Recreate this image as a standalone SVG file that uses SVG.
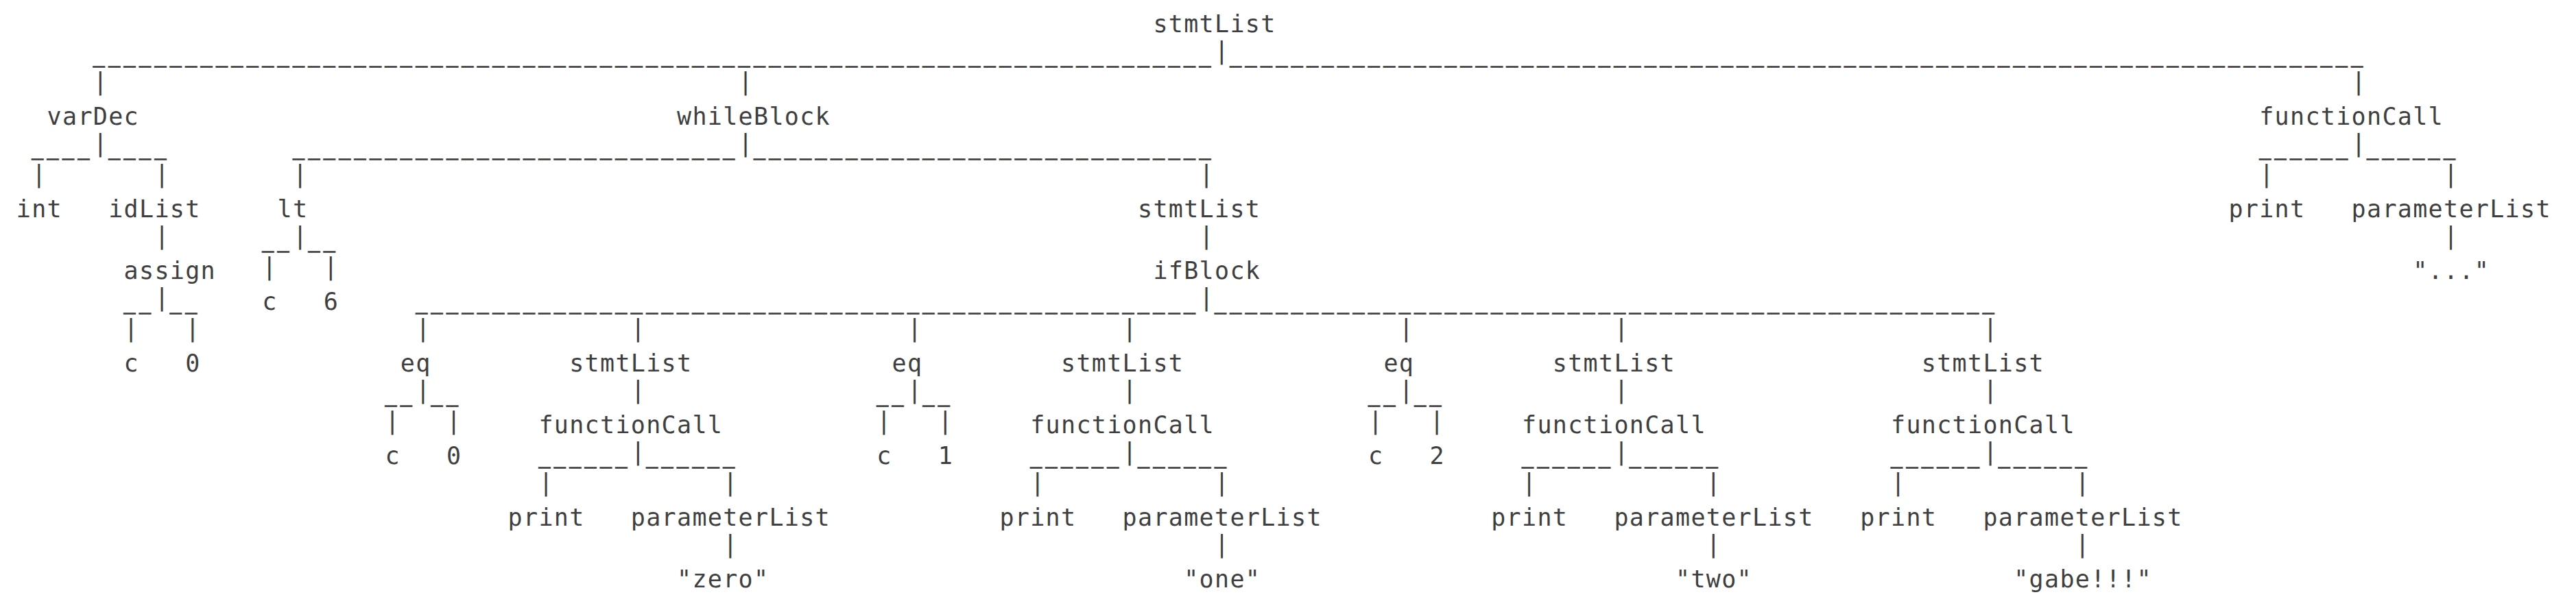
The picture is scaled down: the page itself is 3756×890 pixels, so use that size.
<svg xmlns="http://www.w3.org/2000/svg" width="3756" height="890" viewBox="0 0 3756 890">
<style>
text { font-family: "DejaVu Sans Mono", "Liberation Mono", monospace; font-size: 35px; letter-spacing: 1.33px; fill: #3f3f3f; }
.u { font-size: 28px; letter-spacing: 5.54px; stroke: #3f3f3f; stroke-width: 1.4px; }
</style>
<rect width="3756" height="890" fill="#ffffff"/>
<g id="connectors">
  <text x="135.8" y="90.7"><tspan class="u">_________________________________________________________________________</tspan><tspan dy="-5">|</tspan><tspan class="u" dy="5">__________________________________________________________________________</tspan></text>
  <text x="135.8" y="130.7">|</text>
  <text x="1076.6" y="130.7">|</text>
  <text x="3428.6" y="130.7">|</text>
  <text x="46.2" y="225.7"><tspan class="u">____</tspan><tspan dy="-5">|</tspan><tspan class="u" dy="5">____</tspan></text>
  <text x="427" y="225.7"><tspan class="u">_____________________________</tspan><tspan dy="-5">|</tspan><tspan class="u" dy="5">______________________________</tspan></text>
  <text x="3294.2" y="225.7"><tspan class="u">______</tspan><tspan dy="-5">|</tspan><tspan class="u" dy="5">______</tspan></text>
  <text x="46.2" y="265.7">|</text>
  <text x="225.4" y="265.7">|</text>
  <text x="427" y="265.7">|</text>
  <text x="1748.6" y="265.7">|</text>
  <text x="3294.2" y="265.7">|</text>
  <text x="3563" y="265.7">|</text>
  <text x="225.4" y="355.7">|</text>
  <text x="382.2" y="360.7"><tspan class="u">__</tspan><tspan dy="-5">|</tspan><tspan class="u" dy="5">__</tspan></text>
  <text x="1748.6" y="355.7">|</text>
  <text x="3563" y="355.7">|</text>
  <text x="382.2" y="400.7">|</text>
  <text x="471.8" y="400.7">|</text>
  <text x="180.6" y="450.7"><tspan class="u">__</tspan><tspan dy="-5">|</tspan><tspan class="u" dy="5">__</tspan></text>
  <text x="606.2" y="450.7"><tspan class="u">___________________________________________________</tspan><tspan dy="-5">|</tspan><tspan class="u" dy="5">___________________________________________________</tspan></text>
  <text x="180.6" y="490.7">|</text>
  <text x="270.2" y="490.7">|</text>
  <text x="606.2" y="490.7">|</text>
  <text x="919.8" y="490.7">|</text>
  <text x="1323" y="490.7">|</text>
  <text x="1636.6" y="490.7">|</text>
  <text x="2039.8" y="490.7">|</text>
  <text x="2353.4" y="490.7">|</text>
  <text x="2891.4" y="490.7">|</text>
  <text x="561.4" y="585.7"><tspan class="u">__</tspan><tspan dy="-5">|</tspan><tspan class="u" dy="5">__</tspan></text>
  <text x="1278.2" y="585.7"><tspan class="u">__</tspan><tspan dy="-5">|</tspan><tspan class="u" dy="5">__</tspan></text>
  <text x="1995" y="585.7"><tspan class="u">__</tspan><tspan dy="-5">|</tspan><tspan class="u" dy="5">__</tspan></text>
  <text x="919.8" y="580.7">|</text>
  <text x="1636.6" y="580.7">|</text>
  <text x="2353.4" y="580.7">|</text>
  <text x="2891.4" y="580.7">|</text>
  <text x="561.4" y="625.7">|</text>
  <text x="651" y="625.7">|</text>
  <text x="1278.2" y="625.7">|</text>
  <text x="1367.8" y="625.7">|</text>
  <text x="1995" y="625.7">|</text>
  <text x="2084.6" y="625.7">|</text>
  <text x="785.4" y="675.7"><tspan class="u">______</tspan><tspan dy="-5">|</tspan><tspan class="u" dy="5">______</tspan></text>
  <text x="1502.2" y="675.7"><tspan class="u">______</tspan><tspan dy="-5">|</tspan><tspan class="u" dy="5">______</tspan></text>
  <text x="2219" y="675.7"><tspan class="u">______</tspan><tspan dy="-5">|</tspan><tspan class="u" dy="5">______</tspan></text>
  <text x="2757" y="675.7"><tspan class="u">______</tspan><tspan dy="-5">|</tspan><tspan class="u" dy="5">______</tspan></text>
  <text x="785.4" y="715.7">|</text>
  <text x="1054.2" y="715.7">|</text>
  <text x="1502.2" y="715.7">|</text>
  <text x="1771" y="715.7">|</text>
  <text x="2219" y="715.7">|</text>
  <text x="2487.8" y="715.7">|</text>
  <text x="2757" y="715.7">|</text>
  <text x="3025.8" y="715.7">|</text>
  <text x="1054.2" y="805.7">|</text>
  <text x="1771" y="805.7">|</text>
  <text x="2487.8" y="805.7">|</text>
  <text x="3025.8" y="805.7">|</text>
</g>
<g id="n-root-stmtList"><text x="1681.4" y="46.7">stmtList</text></g>
<g id="n-varDec"><text x="68.6" y="181.7">varDec</text></g>
<g id="n-whileBlock"><text x="987" y="181.7">whileBlock</text></g>
<g id="n-functionCall-top"><text x="3294.2" y="181.7">functionCall</text></g>
<g id="n-int"><text x="23.8" y="316.7">int</text></g>
<g id="n-idList"><text x="158.2" y="316.7">idList</text></g>
<g id="n-lt"><text x="404.6" y="316.7">lt</text></g>
<g id="n-while-stmtList"><text x="1659" y="316.7">stmtList</text></g>
<g id="n-print-top"><text x="3249.4" y="316.7">print</text></g>
<g id="n-parameterList-top"><text x="3428.6" y="316.7">parameterList</text></g>
<g id="n-assign"><text x="180.6" y="406.7">assign</text></g>
<g id="n-ifBlock"><text x="1681.4" y="406.7">ifBlock</text></g>
<g id="n-str-dots"><text x="3518.2" y="406.7">"..."</text></g>
<g id="n-lt-c"><text x="382.2" y="451.7">c</text></g>
<g id="n-lt-6"><text x="471.8" y="451.7">6</text></g>
<g id="n-assign-c"><text x="180.6" y="541.7">c</text></g>
<g id="n-assign-0"><text x="270.2" y="541.7">0</text></g>
<g id="n-eq0"><text x="583.8" y="541.7">eq</text></g>
<g id="n-stmtList0"><text x="830.2" y="541.7">stmtList</text></g>
<g id="n-eq1"><text x="1300.6" y="541.7">eq</text></g>
<g id="n-stmtList1"><text x="1547" y="541.7">stmtList</text></g>
<g id="n-eq2"><text x="2017.4" y="541.7">eq</text></g>
<g id="n-stmtList2"><text x="2263.8" y="541.7">stmtList</text></g>
<g id="n-stmtList3"><text x="2801.8" y="541.7">stmtList</text></g>
<g id="n-functionCall0"><text x="785.4" y="631.7">functionCall</text></g>
<g id="n-functionCall1"><text x="1502.2" y="631.7">functionCall</text></g>
<g id="n-functionCall2"><text x="2219" y="631.7">functionCall</text></g>
<g id="n-functionCall3"><text x="2757" y="631.7">functionCall</text></g>
<g id="n-eq0-c"><text x="561.4" y="676.7">c</text></g>
<g id="n-eq0-0"><text x="651" y="676.7">0</text></g>
<g id="n-eq1-c"><text x="1278.2" y="676.7">c</text></g>
<g id="n-eq1-1"><text x="1367.8" y="676.7">1</text></g>
<g id="n-eq2-c"><text x="1995" y="676.7">c</text></g>
<g id="n-eq2-2"><text x="2084.6" y="676.7">2</text></g>
<g id="n-print0"><text x="740.6" y="766.7">print</text></g>
<g id="n-parameterList0"><text x="919.8" y="766.7">parameterList</text></g>
<g id="n-print1"><text x="1457.4" y="766.7">print</text></g>
<g id="n-parameterList1"><text x="1636.6" y="766.7">parameterList</text></g>
<g id="n-print2"><text x="2174.2" y="766.7">print</text></g>
<g id="n-parameterList2"><text x="2353.4" y="766.7">parameterList</text></g>
<g id="n-print3"><text x="2712.2" y="766.7">print</text></g>
<g id="n-parameterList3"><text x="2891.4" y="766.7">parameterList</text></g>
<g id="n-str-zero"><text x="987" y="856.7">"zero"</text></g>
<g id="n-str-one"><text x="1726.2" y="856.7">"one"</text></g>
<g id="n-str-two"><text x="2443" y="856.7">"two"</text></g>
<g id="n-str-gabe"><text x="2936.2" y="856.7">"gabe!!!"</text></g>
</svg>
